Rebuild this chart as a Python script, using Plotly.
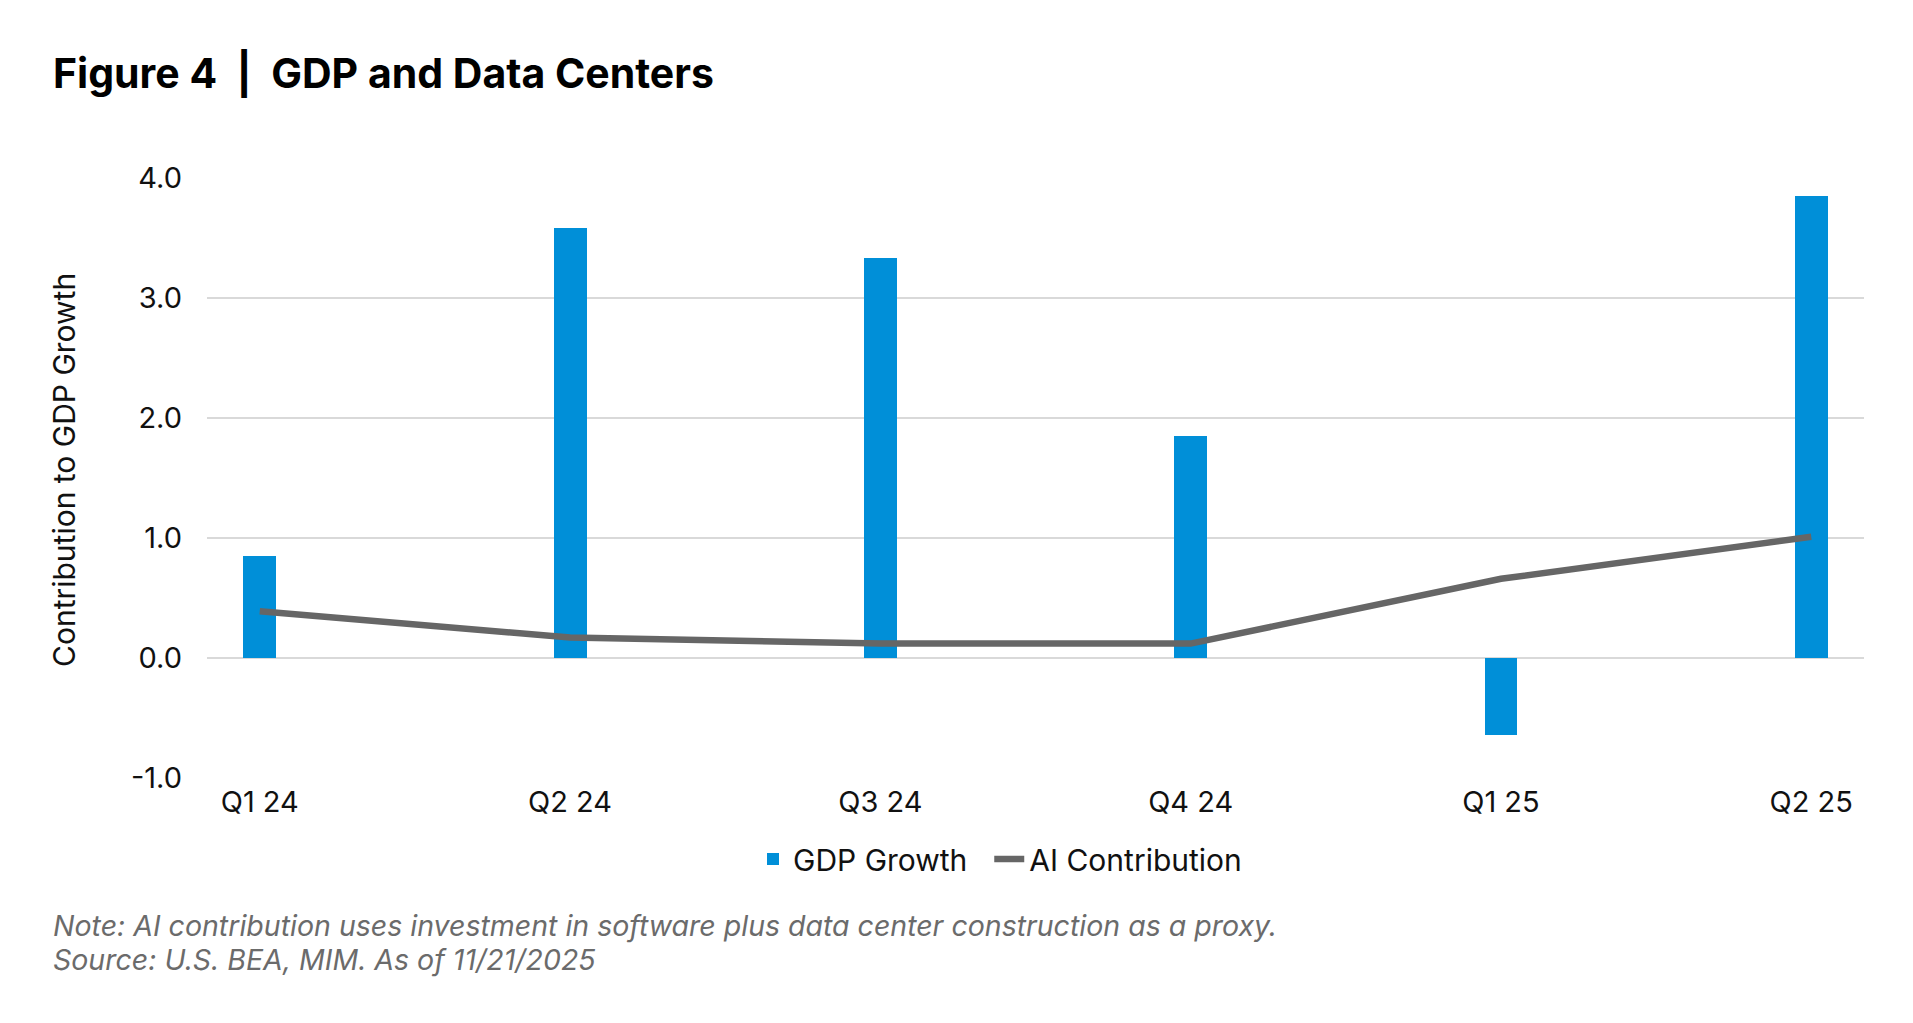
import plotly.graph_objects as go

categories = ["Q1 24", "Q2 24", "Q3 24", "Q4 24", "Q1 25", "Q2 25"]
gdp_growth = [0.85, 3.58, 3.33, 1.85, -0.64, 3.85]
ai_contribution = [0.39, 0.17, 0.12, 0.12, 0.66, 1.01]
y_ticks = [-1.0, 0.0, 1.0, 2.0, 3.0, 4.0]
y_tick_labels = ["-1.0", "0.0", "1.0", "2.0", "3.0", "4.0"]

W, H = 1913, 1023
# plot area in reference-screenshot pixels
X0, X1, Y0, Y1 = 207, 1864, 178, 778
OFF = 8  # page body margin
L, T = X0 - OFF, Y0 - OFF
PW, PH = X1 - X0, Y1 - Y0
R, B = W - L - PW, H - T - PH

def px(x):
    return (x - X0) / PW

def py(y):
    return (Y1 - y) / PH

FONT = "Inter"

fig = go.Figure()
fig.add_trace(go.Bar(
    x=categories, y=gdp_growth, name="GDP Growth\u00a0\u00a0",
    marker=dict(color="#008FD8", line=dict(width=0)),
    width=0.106,
))
fig.add_trace(go.Scatter(
    x=categories, y=ai_contribution, name="AI Contribution",
    mode="lines", line=dict(color="#666666", width=6.5),
))

fig.update_layout(
    width=W, height=H,
    margin=dict(l=L, r=R, t=T, b=B, autoexpand=False),
    paper_bgcolor="white", plot_bgcolor="white",
    font=dict(family=FONT, size=29, color="#111111"),
    showlegend=True,
    legend=dict(orientation="h", x=px(1000), xanchor="center",
                y=py(859), yanchor="middle",
                font=dict(size=30, color="#111111"),
                itemwidth=30, tracegroupgap=0),
    xaxis=dict(type="category", range=[-0.17, 5.17], showgrid=False,
               showline=False, zeroline=False, ticks="",
               ticklabelstandoff=4,
               tickfont=dict(size=29, color="#111111")),
    yaxis=dict(range=[-1, 4], tickvals=y_ticks, ticktext=y_tick_labels,
               showgrid=True, gridcolor="#D9D9D9", gridwidth=2,
               zeroline=True, zerolinecolor="#D9D9D9", zerolinewidth=2,
               showline=False, ticks="", ticklabelstandoff=24,
               tickfont=dict(size=29, color="#111111")),
    bargap=0,
)

fig.add_annotation(
    text="<b>Figure 4  |  GDP and Data Centers</b>",
    xref="paper", yref="paper", x=px(51), y=py(73),
    xanchor="left", yanchor="middle", showarrow=False,
    font=dict(family=FONT, size=41, color="#000000"),
)
fig.add_annotation(
    text="Contribution to GDP Growth",
    xref="paper", yref="paper", x=px(64), y=py(470),
    xanchor="center", yanchor="middle", showarrow=False, textangle=-90,
    font=dict(family=FONT, size=30, color="#111111"),
)
fig.add_annotation(
    text="<i>Note: AI contribution uses investment in software plus data center construction as a proxy.</i>",
    xref="paper", yref="paper", x=px(51), y=py(925),
    xanchor="left", yanchor="middle", showarrow=False,
    font=dict(family=FONT, size=28.5, color="#6B6B6B"),
)
fig.add_annotation(
    text="<i>Source: U.S. BEA, MIM. As of 11/21/2025</i>",
    xref="paper", yref="paper", x=px(51), y=py(960),
    xanchor="left", yanchor="middle", showarrow=False,
    font=dict(family=FONT, size=28.5, color="#6B6B6B"),
)

fig.write_html("out.html")
